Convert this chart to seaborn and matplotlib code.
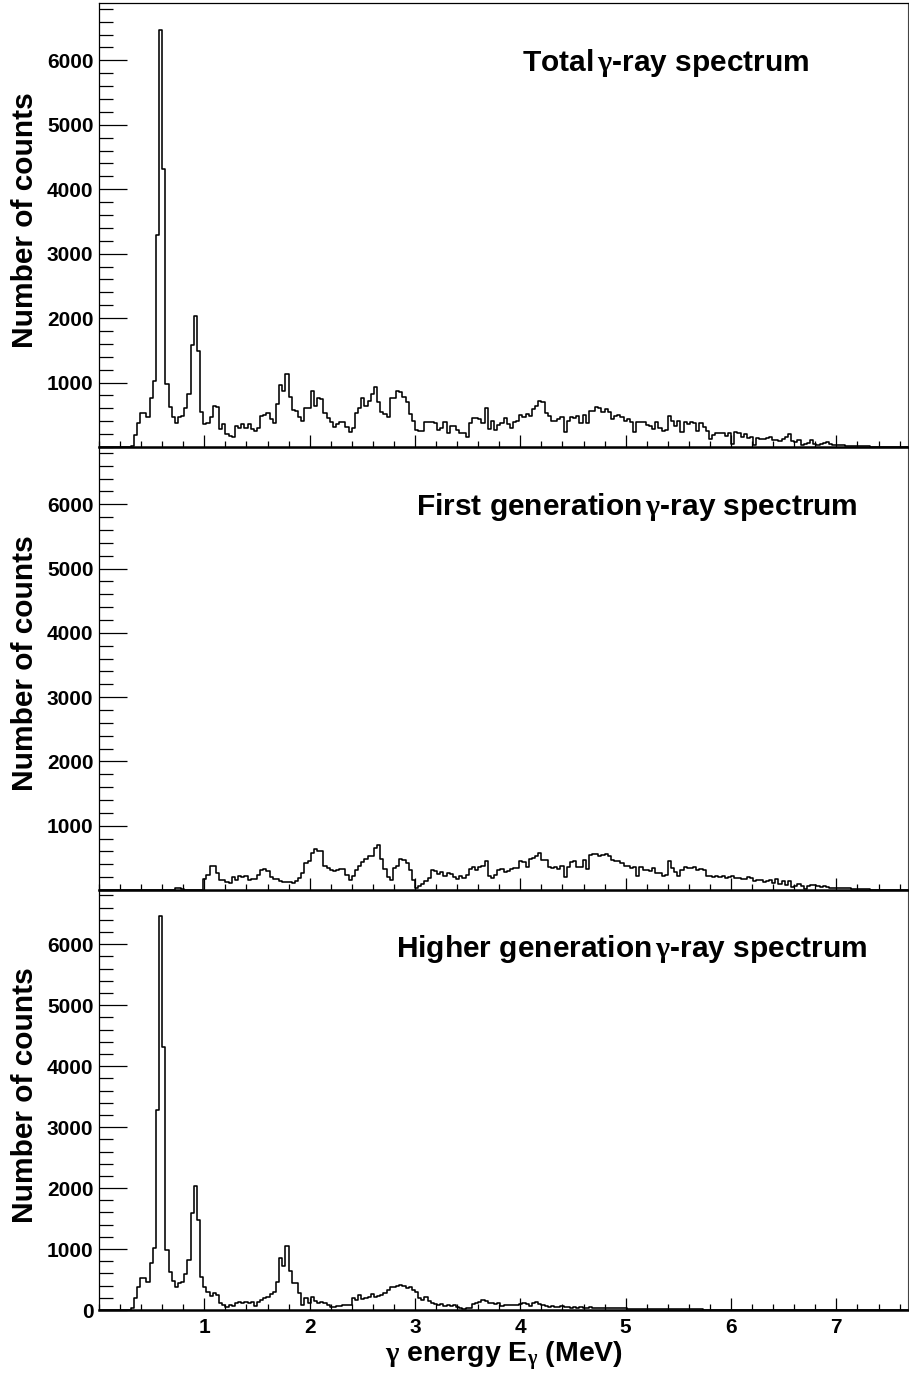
import numpy as np
import pandas as pd
import matplotlib
matplotlib.use("Agg")
import matplotlib.pyplot as plt
from matplotlib.ticker import MultipleLocator, FixedLocator
import seaborn as sns

# ---- spectrum data: counts per 30 keV bin, 256 bins from 0 to 7.68 MeV ----
BIN_WIDTH = 0.03
N_BINS = 256

total_counts = [0] * 10 + [
    10, 181, 378, 533, 520, 466, 767, 1026, 3289, 6475,
    4315, 974, 622, 466, 378, 471, 482, 601, 818, 1585,
    2030, 1492, 549, 352, 378, 471, 637, 622, 275, 352,
    207, 171, 155, 326, 300, 363, 300, 363, 285, 249,
    300, 482, 500, 523, 440, 378, 673, 958, 870, 1140,
    772, 575, 554, 461, 399, 606, 606, 865, 642, 761,
    746, 523, 445, 383, 306, 357, 383, 383, 306, 228,
    295, 523, 606, 761, 642, 720, 824, 927, 694, 539,
    513, 471, 761, 761, 865, 850, 772, 694, 513, 409,
    269, 243, 243, 394, 383, 383, 368, 269, 295, 383,
    212, 332, 332, 264, 212, 212, 161, 368, 450, 450,
    435, 368, 600, 280, 399, 264, 347, 368, 445, 350,
    295, 383, 409, 502, 461, 513, 487, 590, 642, 720,
    700, 523, 487, 409, 409, 435, 461, 238, 409, 461,
    450, 487, 368, 502, 368, 565, 565, 627, 606, 539,
    590, 539, 435, 487, 502, 461, 409, 435, 383, 228,
    383, 383, 394, 340, 332, 280, 383, 295, 254, 264,
    487, 399, 332, 409, 238, 383, 357, 383, 368, 243,
    368, 316, 254, 124, 192, 212, 212, 223, 176, 218,
    47, 228, 212, 161, 202, 140, 150, 36, 140, 130,
    119, 140, 161, 109, 109, 98, 124, 161, 202, 88,
    73, 109, 36, 47, 57, 109, 47, 36, 47, 57,
    73, 47, 26, 36, 26, 31, 21, 16, 21, 10,
    10, 10, 10, 10, 4, 4, 4, 4,
] + [0] * 8

first_gen_counts = [0] * 24 + [
    30, 35, 20, 5, 0, 0, 0, 0, 0,
    171, 238, 368, 378, 264, 150, 161, 119, 109, 202,
    150, 223, 202, 212, 161, 171, 171, 238, 316, 326,
    290, 202, 171, 171, 145, 119, 119, 124, 109, 135,
    186, 264, 420, 445, 575, 637, 601, 601, 378, 342,
    316, 290, 306, 326, 326, 238, 150, 223, 316, 368,
    430, 482, 523, 533, 653, 704, 482, 326, 202, 161,
    342, 378, 482, 471, 420, 316, 161, 31, 67, 98,
    135, 186, 306, 290, 249, 275, 212, 264, 249, 197,
    176, 212, 186, 238, 326, 357, 316, 357, 380, 456,
    223, 186, 238, 306, 326, 275, 290, 326, 342, 342,
    445, 430, 357, 487, 500, 523, 575, 471, 461, 357,
    342, 357, 326, 378, 202, 357, 430, 445, 357, 357,
    461, 326, 549, 565, 565, 523, 545, 565, 523, 471,
    445, 445, 420, 378, 368, 342, 357, 212, 357, 316,
    306, 290, 342, 264, 264, 212, 238, 445, 342, 280,
    212, 316, 357, 342, 342, 357, 316, 326, 316, 212,
    212, 202, 212, 202, 212, 186, 202, 212, 186, 186,
    171, 171, 202, 186, 135, 161, 150, 119, 135, 150,
    109, 171, 98, 135, 83, 135, 47, 67, 98, 67,
    16, 67, 83, 83, 57, 47, 57, 47, 26, 36,
    36, 26, 26, 26, 26, 21, 21, 21, 10, 10,
    10,
] + [0] * 12

higher_gen_counts = [0] * 10 + [
    27, 192, 373, 532, 532, 455, 767, 1025, 3288, 6466,
    4313, 986, 630, 477, 373, 438, 466, 586, 822, 1589,
    2028, 1480, 548, 373, 290, 236, 274, 247, 110, 82,
    55, 82, 66, 121, 137, 121, 132, 121, 132, 66,
    137, 164, 192, 219, 258, 300, 466, 860, 723, 1052,
    647, 449, 449, 274, 82, 192, 121, 208, 153, 121,
    137, 110, 82, 44, 55, 66, 66, 82, 82, 82,
    192, 164, 247, 175, 192, 219, 258, 208, 230, 250,
    274, 329, 384, 373, 395, 411, 395, 356, 373, 329,
    301, 192, 164, 208, 153, 110, 99, 82, 93, 66,
    82, 66, 77, 44, 33, 22, 33, 33, 99, 110,
    132, 164, 153, 121, 121, 99, 110, 66, 77, 77,
    88, 82, 77, 99, 110, 99, 66, 110, 132, 99,
    82, 66, 55, 71, 55, 44, 66, 55, 44, 38,
    55, 33, 44, 33, 38, 44, 27, 27, 27, 27,
    27, 25, 25, 25, 25, 25, 25, 22, 22, 22,
    22, 22, 22, 22, 16, 16, 16, 16, 16, 16,
    16, 11, 11, 11, 11, 11, 11, 11, 11, 11,
    11, 6, 6, 6, 6, 6, 6, 6, 6, 6,
    6, 3, 3, 3, 3, 3, 3, 3, 3, 3,
    3, 3, 3, 3, 3, 3,
] + [0] * 40

panel_titles = [
    r"Total$\,\gamma$-ray spectrum",
    r"First generation$\,\gamma$-ray spectrum",
    r"Higher generation$\,\gamma$-ray spectrum",
]
y_title = "Number of counts"
x_title = r"$\gamma$ energy E$_{\gamma}$ (MeV)"
x_tick_values = [1, 2, 3, 4, 5, 6, 7]
x_tick_labels = ["1", "2", "3", "4", "5", "6", "7"]
y_tick_values = [0, 1000, 2000, 3000, 4000, 5000, 6000]
y_tick_labels = ["0", "1000", "2000", "3000", "4000", "5000", "6000"]

edges = np.arange(N_BINS + 1) * BIN_WIDTH
centers = edges[:-1] + BIN_WIDTH / 2
spectra = pd.DataFrame({
    "energy": np.tile(centers, 3),
    "counts": np.concatenate([total_counts, first_gen_counts,
                              higher_gen_counts]).astype(float),
    "panel": np.repeat([0, 1, 2], N_BINS),
})

# ---- style ----
sns.set_theme(style="white")
plt.rcParams.update({
    "font.family": ["Liberation Sans", "DejaVu Sans"],
    "font.weight": "bold",
    "mathtext.fontset": "custom",
    "mathtext.rm": "Liberation Serif",
    "mathtext.it": "Liberation Serif",
    "mathtext.bf": "Liberation Serif",
    "axes.edgecolor": "black",
    "text.color": "black",
    "axes.labelcolor": "black",
    "xtick.color": "black",
    "ytick.color": "black",
})

W, H = 909, 1382
fig = plt.figure(figsize=(W / 100, H / 100), dpi=100)
fig.patch.set_facecolor("white")

LEFT, RIGHT = 99, 908
panel_rows = [(3, 447), (447, 890), (890, 1310)]
title_pos = [(522, 71), (416, 515), (396, 957)]

for k, (top, bottom) in enumerate(panel_rows):
    ax = fig.add_axes([LEFT / W, 1 - bottom / H, (RIGHT - LEFT) / W, (bottom - top) / H])
    ax.set_facecolor("white")
    sns.histplot(data=spectra[spectra["panel"] == k].reset_index(drop=True),
                 x="energy", weights="counts",
                 bins=N_BINS, binrange=(float(edges[0]), float(edges[-1])),
                 element="step", fill=False, color="black",
                 linewidth=1.15, ax=ax)
    ax.set_xlim(edges[0], edges[-1])
    ax.set_ylim(0, 6890)
    ax.set_xlabel("")
    ax.set_ylabel("")

    ax.xaxis.set_major_locator(FixedLocator(x_tick_values))
    ax.xaxis.set_minor_locator(MultipleLocator(0.2))
    ax.yaxis.set_minor_locator(MultipleLocator(200))
    if k == 2:
        ax.set_yticks(y_tick_values, y_tick_labels)
        ax.set_xticks(x_tick_values, x_tick_labels)
    else:
        ax.set_yticks(y_tick_values[1:], y_tick_labels[1:])
        ax.tick_params(axis="x", labelbottom=False)

    ax.tick_params(axis="y", which="major", direction="in", length=20, width=0.9,
                   left=True, right=False, labelsize=15, pad=4, colors="black")
    ax.tick_params(axis="y", which="minor", direction="in", length=10, width=0.9,
                   left=True, right=False)
    ax.tick_params(axis="x", which="major", direction="in", length=8.6, width=0.9,
                   bottom=True, top=False, labelsize=15, pad=6, colors="black")
    ax.tick_params(axis="x", which="minor", direction="in", length=4.3, width=0.9,
                   bottom=True, top=False)
    for lab in ax.get_xticklabels() + ax.get_yticklabels():
        lab.set_fontweight("bold")
        lab.set_color("black")

    for side in ["left", "top", "right"]:
        ax.spines[side].set_linewidth(0.9)
        ax.spines[side].set_color("black")
    ax.spines["right"].set_color("#444444")
    ax.spines["right"].set_linewidth(0.8)
    ax.spines["bottom"].set_linewidth(1.8)
    ax.spines["bottom"].set_color("black")
    ax.set_zorder(3 - k)

    tx, ty = title_pos[k]
    fig.text(tx / W, 1 - ty / H, panel_titles[k], fontsize=21.5, fontweight="bold",
             color="black", ha="left", va="baseline")
    fig.text(24.7 / W, 1 - (top + bottom - 10) / 2 / H, y_title, fontsize=21.5,
             fontweight="bold", color="black", rotation=90, ha="center", va="center")

fig.text(385 / W, 1 - 1362 / H, x_title, fontsize=20.5, fontweight="bold",
         color="black", ha="left", va="baseline")

fig.savefig("out.png", dpi=100, facecolor="white")
